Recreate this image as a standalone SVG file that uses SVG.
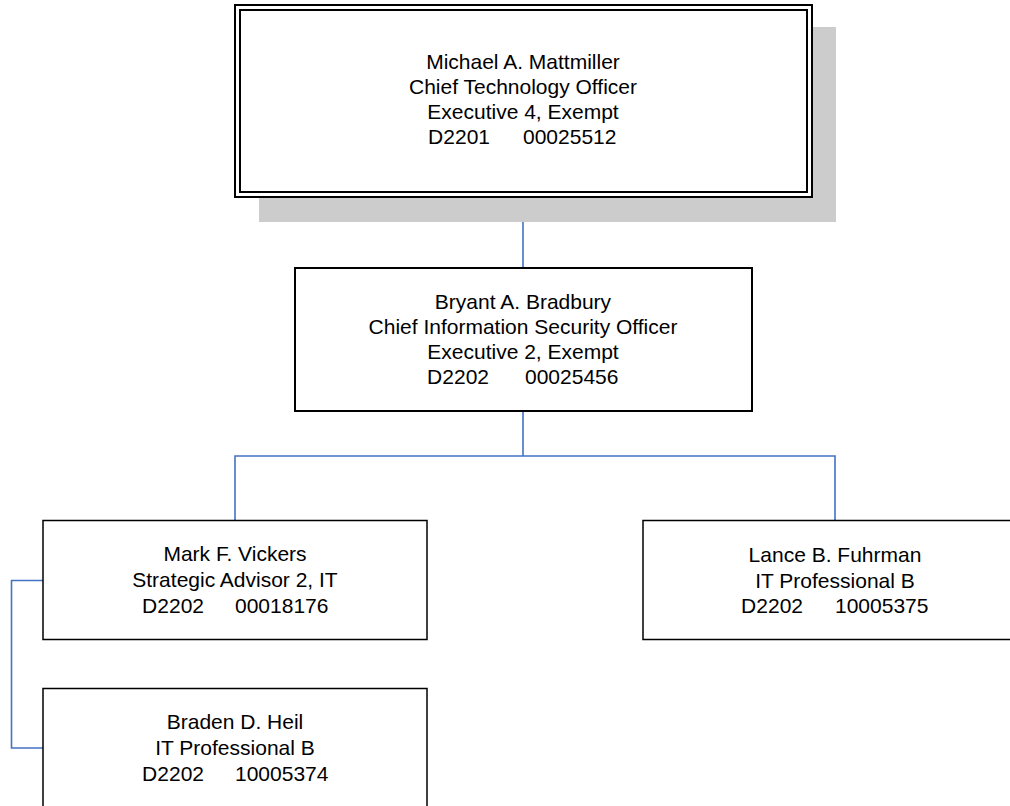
<svg xmlns="http://www.w3.org/2000/svg" width="1010" height="806" viewBox="0 0 1010 806">
<style>
.box{fill:#fff;stroke:#000;}
.t{font-family:"Liberation Sans",Arial,sans-serif;font-size:21px;fill:#000;}
.c{text-anchor:middle;}
.e{text-anchor:end;}
.conn{fill:none;stroke:#4472C4;stroke-width:1.6;}
</style>
<rect width="1010" height="806" fill="#fff"/>
<g id="connectors">
<path class="conn" d="M523 197V268"/>
<path class="conn" d="M523 411V456M235 520V456H835V520"/>
<path class="conn" d="M43 580.5H11.5V748H43"/>
</g>
<g id="node-mattmiller">
<rect x="259" y="27" width="577" height="195" fill="#cccccc"/>
<rect class="box" x="235" y="5" width="577" height="192" stroke-width="2"/>
<rect x="240" y="10" width="567" height="182" fill="none" stroke="#000" stroke-width="2"/>
<text class="t c" x="523" y="69">Michael A. Mattmiller</text>
<text class="t c" x="523" y="94">Chief Technology Officer</text>
<text class="t c" x="523" y="119">Executive 4, Exempt</text>
<text class="t e" x="490" y="144">D2201</text>
<text class="t" x="523" y="144">00025512</text>
</g>
<g id="node-bradbury">
<rect class="box" x="295" y="268" width="457" height="143" stroke-width="2"/>
<text class="t c" x="523" y="309">Bryant A. Bradbury</text>
<text class="t c" x="523" y="334">Chief Information Security Officer</text>
<text class="t c" x="523" y="359">Executive 2, Exempt</text>
<text class="t e" x="489" y="384">D2202</text>
<text class="t" x="525" y="384">00025456</text>
</g>
<g id="node-vickers">
<rect class="box" x="43" y="520.5" width="384" height="119" stroke-width="1.5"/>
<text class="t c" x="235" y="561">Mark F. Vickers</text>
<text class="t c" x="235" y="587">Strategic Advisor 2, IT</text>
<text class="t e" x="204" y="613">D2202</text>
<text class="t" x="235" y="613">00018176</text>
</g>
<g id="node-fuhrman">
<rect class="box" x="643" y="520.5" width="384" height="119" stroke-width="1.5"/>
<text class="t c" x="835" y="562">Lance B. Fuhrman</text>
<text class="t c" x="835" y="588">IT Professional B</text>
<text class="t e" x="803" y="613">D2202</text>
<text class="t" x="835" y="613">10005375</text>
</g>
<g id="node-heil">
<rect class="box" x="43" y="688.5" width="384" height="130" stroke-width="1.5"/>
<text class="t c" x="235" y="729">Braden D. Heil</text>
<text class="t c" x="235" y="755">IT Professional B</text>
<text class="t e" x="204" y="781">D2202</text>
<text class="t" x="235" y="781">10005374</text>
</g>
</svg>
